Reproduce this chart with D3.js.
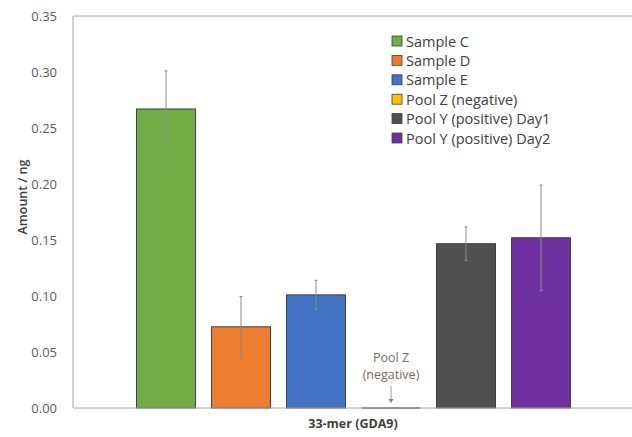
<!DOCTYPE html>
<html><head><meta charset="utf-8">
<script src="https://cdn.jsdelivr.net/npm/d3@7"></script>
<style>body{margin:0;background:#fff;}svg{display:block;font-family:"Open Sans",sans-serif;}</style>
</head><body>
<svg id="c" width="632" height="437"></svg>
<script>
const categories = ["Sample C","Sample D","Sample E","Pool Z (negative)","Pool Y (positive) Day1","Pool Y (positive) Day2"];
const values = [0.267, 0.0725, 0.101, 0, 0.1467, 0.152];
const errors = [0.034, 0.027, 0.013, 0, 0.015, 0.047];
const colors = ["#70ad47","#ed7d31","#4472c4","#ffc000","#505050","#7030a0"];
const yTicks = [0,0.05,0.10,0.15,0.20,0.25,0.30,0.35];
const groupLabel = "33-mer (GDA9)";

const svg = d3.select("#c");
const L = 73, R = 634, T = 16, B = 408;
const y = d3.scaleLinear().domain([0,0.35]).range([B,T]);
const x = d3.scaleBand().domain(categories).range([136.5, 570.5]).paddingInner(16/75).paddingOuter(0);

// frame
svg.append("line").attr("x1",L).attr("x2",R).attr("y1",T).attr("y2",T).attr("stroke","#a6a6a6");
svg.append("line").attr("x1",L).attr("x2",L).attr("y1",T).attr("y2",B).attr("stroke","#a6a6a6");

// y axis labels
const ax = svg.append("g").attr("transform",`translate(${L},0)`)
  .call(d3.axisLeft(y).tickValues(yTicks).tickFormat(d3.format(".2f")).tickSize(0).tickPadding(16));
ax.select(".domain").remove();
ax.selectAll("text").attr("fill","#595959").style("font-size","13px").style("font-family","'Open Sans',sans-serif");

svg.append("text").attr("transform","translate(22,197) rotate(-90)").attr("text-anchor","middle")
  .attr("dominant-baseline","central").attr("fill","#404040").style("font-size","12.5px").style("font-weight","600").text("Amount / ng");

// bars
const data = categories.map((c,i)=>({c,v:values[i],e:errors[i],col:colors[i]}));
svg.append("g").selectAll("rect").data(data).join("rect")
  .attr("x",d=>x(d.c)).attr("width",x.bandwidth())
  .attr("y",d=>y(d.v)).attr("height",d=>y(0)-y(d.v))
  .attr("fill",d=>d.col).attr("stroke","#404040").attr("stroke-width",1);

// baseline
svg.append("line").attr("x1",L).attr("x2",R).attr("y1",B).attr("y2",B).attr("stroke","#a6a6a6");
// zero bar outline
const z = data[3];
svg.append("line").attr("x1",x(z.c)).attr("x2",x(z.c)+x.bandwidth()).attr("y1",y(0)).attr("y2",y(0)).attr("stroke","#595959");

// error bars
const eb = svg.append("g").attr("stroke","#8a8a8a").attr("stroke-width",1);
data.filter(d=>d.e>0).forEach(d=>{
  const cx = x(d.c)+x.bandwidth()/2;
  eb.append("line").attr("x1",cx).attr("x2",cx).attr("y1",y(d.v+d.e)).attr("y2",y(d.v-d.e));
  eb.append("line").attr("x1",cx-1.5).attr("x2",cx+1.5).attr("y1",y(d.v+d.e)).attr("y2",y(d.v+d.e));
  eb.append("line").attr("x1",cx-1.5).attr("x2",cx+1.5).attr("y1",y(d.v-d.e)).attr("y2",y(d.v-d.e));
});

// annotation
const zx = x(z.c)+x.bandwidth()/2;
svg.append("text").attr("x",zx).attr("y",362).attr("text-anchor","middle").attr("fill","#7b6b5e").style("font-size","12.5px").text("Pool Z");
svg.append("text").attr("x",zx).attr("y",379).attr("text-anchor","middle").attr("fill","#7b6b5e").style("font-size","12.5px").text("(negative)");
svg.append("line").attr("x1",zx).attr("x2",zx).attr("y1",386).attr("y2",400).attr("stroke","#a0a0a0");
svg.append("path").attr("d",`M${zx-2.5},${399} L${zx+2.5},${399} L${zx},${403} Z`).attr("fill","#808080");

// x label
svg.append("text").attr("x",353).attr("y",428).attr("text-anchor","middle").attr("fill","#404040")
  .style("font-size","12.5px").style("font-weight","700").text(groupLabel);

// legend
const lg = svg.append("g");
data.forEach((d,i)=>{
  const yy = 41 + i*19.4;
  lg.append("rect").attr("x",392).attr("y",yy-5).attr("width",10).attr("height",10).attr("fill",d.col).attr("stroke","#404040").attr("stroke-width",0.8);
  lg.append("text").attr("x",406).attr("y",yy).attr("dominant-baseline","central").attr("fill","#404040").style("font-size","14.5px").text(d.c);
});
</script>
</body></html>
